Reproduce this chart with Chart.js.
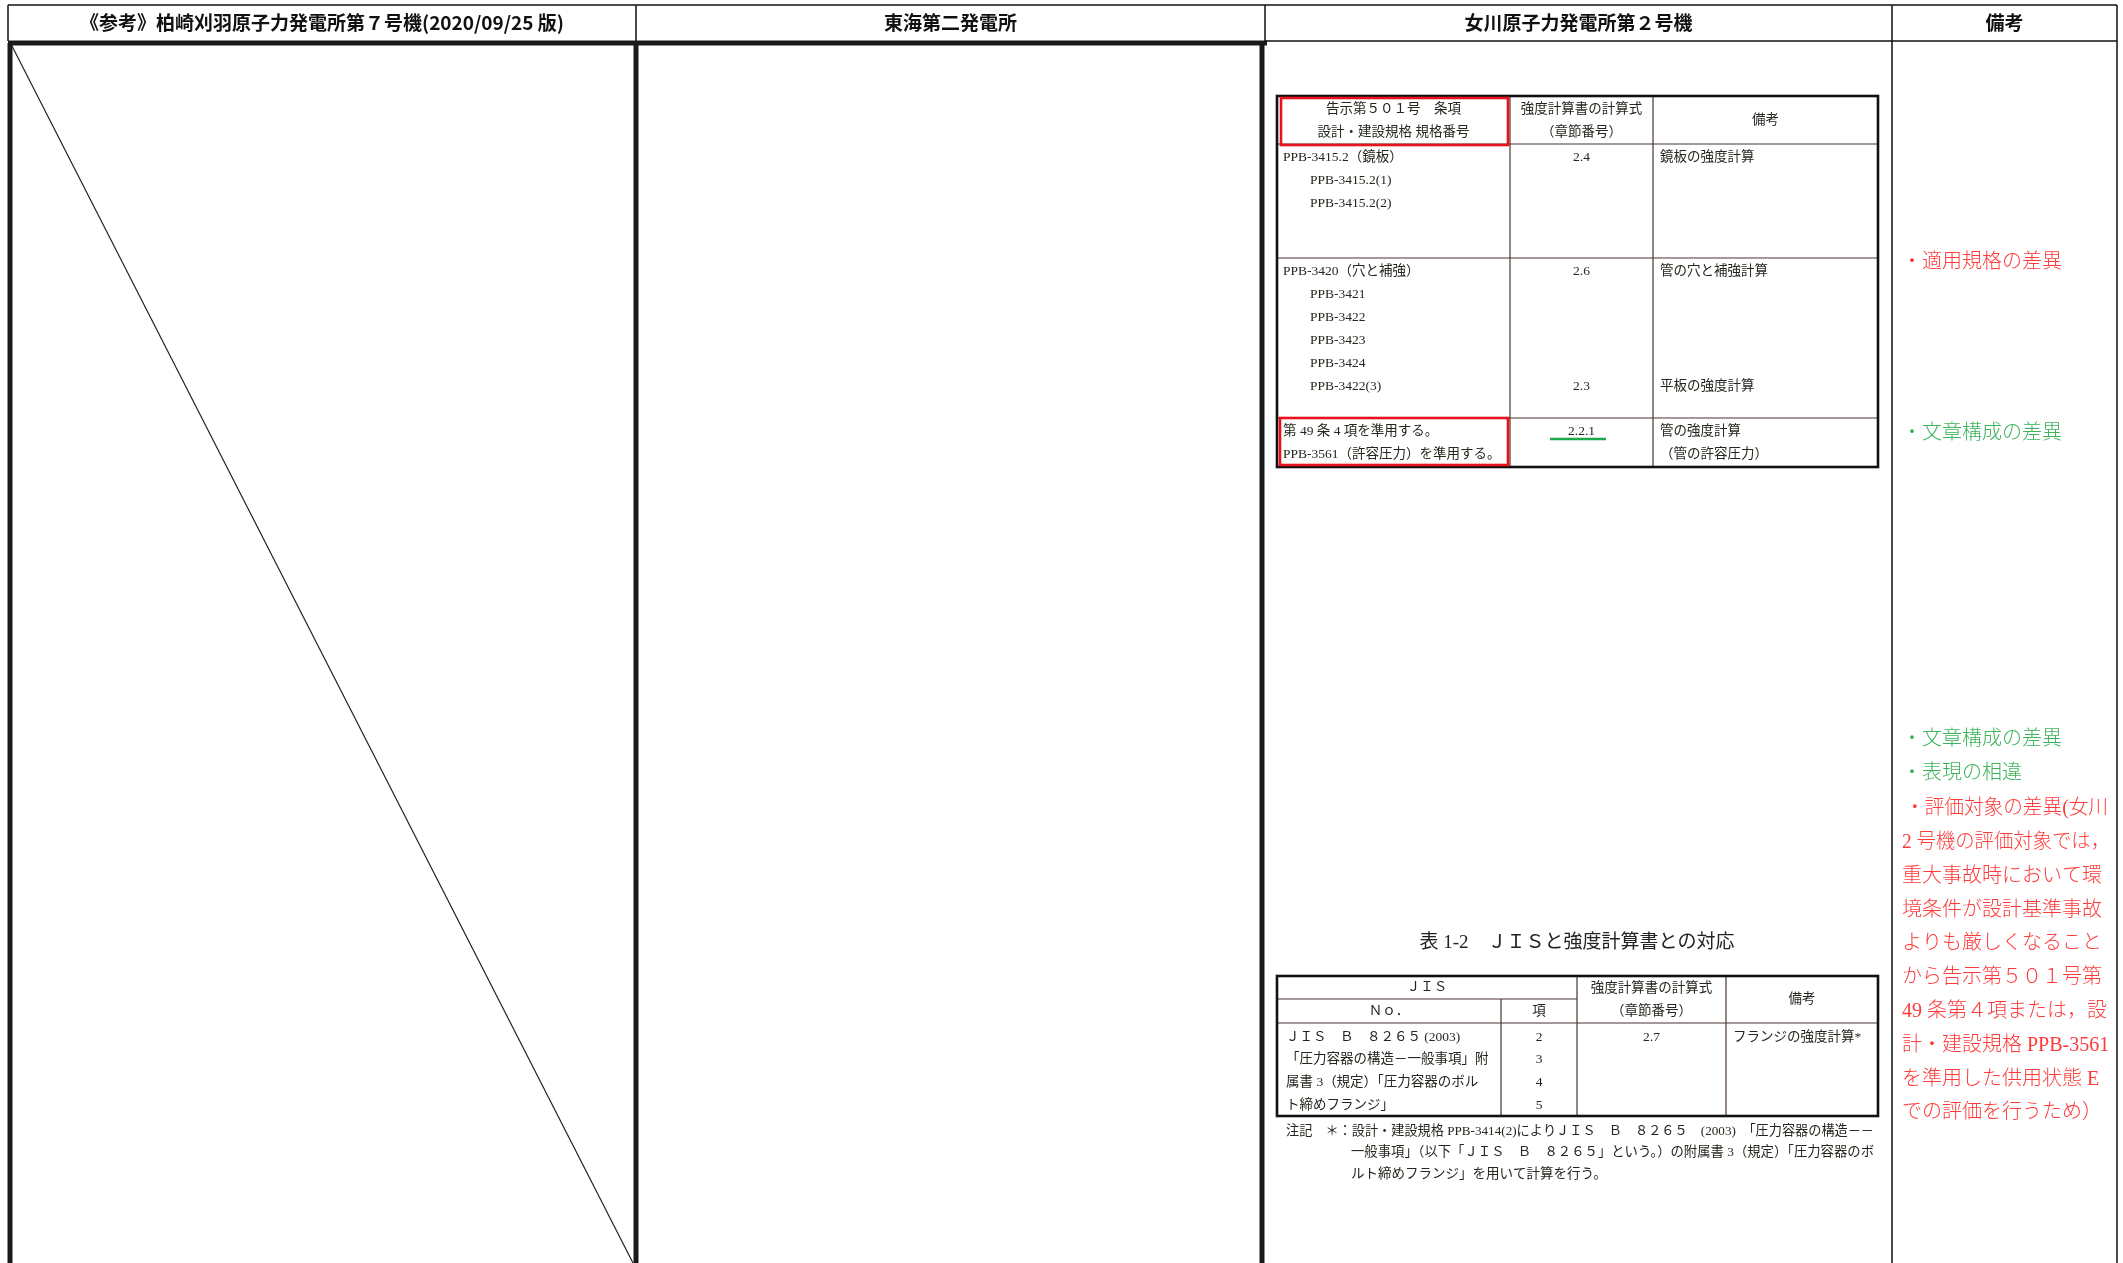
<!DOCTYPE html>
<html>
<head>
<meta charset="utf-8">
<script src="https://cdn.jsdelivr.net/npm/chart.js@4/dist/chart.umd.min.js"></script>
<style>
  html, body { margin: 0; padding: 0; background: #fff; }
  #wrap { width: 2123px; height: 1263px; }
</style>
</head>
<body>
<div id="wrap"><canvas id="doc" width="2123" height="1263"></canvas></div>
<script>
var W = 2123, H = 1263;

// 列見出し
var columnTitles = ['《参考》柏崎刈羽原子力発電所第７号機(2020/09/25 版)', '東海第二発電所', '女川原子力発電所第２号機', '備考'];

// 表1（告示第501号 / 設計・建設規格）
var t1Header = [['告示第５０１号　条項', '設計・建設規格 規格番号'], ['強度計算書の計算式', '（章節番号）'], ['備考']];
var t1Clause = [
    ['PPB-3415.2（鏡板）', '　　PPB-3415.2(1)', '　　PPB-3415.2(2)'],
    ['PPB-3420（穴と補強）', '　　PPB-3421', '　　PPB-3422', '　　PPB-3423', '　　PPB-3424', '　　PPB-3422(3)'],
    ['第 49 条 4 項を準用する。', 'PPB-3561（許容圧力）を準用する。']
];
var t1Formula = [['2.4'], ['2.6', '', '', '', '', '2.3'], ['2.2.1']];
var t1Remark = [['鏡板の強度計算'], ['管の穴と補強計算', '', '', '', '', '平板の強度計算'], ['管の強度計算', '（管の許容圧力）']];

// 表1-2（JIS）
var t2Caption = '表 1-2　ＪＩＳと強度計算書との対応';
var t2Header = ['ＪＩＳ', 'Ｎｏ．', '項', '強度計算書の計算式', '（章節番号）', '備考'];
var t2No = ['ＪＩＳ　Ｂ　８２６５ (2003)', '「圧力容器の構造－一般事項」附', '属書 3（規定）「圧力容器のボル', 'ト締めフランジ」'];
var t2Item = ['2', '3', '4', '5'];
var t2Formula = ['2.7'];
var t2Remark = ['フランジの強度計算*'];
var t2Notes = [
    '注記　＊：設計・建設規格 PPB-3414(2)によりＪＩＳ　Ｂ　８２６５　(2003)　「圧力容器の構造－－',
    '一般事項」（以下「ＪＩＳ　Ｂ　８２６５」という。）の附属書 3（規定）「圧力容器のボ',
    'ルト締めフランジ」を用いて計算を行う。'
];

// 備考欄
var remarkStd = ['・適用規格の差異'];
var remarkText1 = ['・文章構成の差異'];
var remarkText2 = ['・文章構成の差異', '・表現の相違'];
var remarkTarget = ['・評価対象の差異(女川', '2 号機の評価対象では，', '重大事故時において環', '境条件が設計基準事故',
    'よりも厳しくなること', 'から告示第５０１号第', '49 条第４項または，設', '計・建設規格 PPB-3561',
    'を準用した供用状態 E', 'での評価を行うため）'];

// レイアウト（座標）
var colEdges = [8, 636, 1265, 1892, 2117];
var headTop = 5, headBottom = 41, bodyTop = 43;
var t1X = [1277, 1510, 1653, 1878];
var t1Y = [96, 144, 258, 418, 467];
var t2X = [1277, 1501, 1577, 1726, 1878];
var t2Y = [976, 999, 1023, 1116];

var SANS = '"Noto Sans CJK JP", "Noto Sans", sans-serif';
var SERIF = '"Liberation Serif", "Noto Sans CJK JP", serif';
var INK = '#26261f';
var RED = '#ff3a3a';
var GREEN = '#3cb35a';

var docPlugin = {
    id: 'docPlugin',
    beforeDatasetsDraw: function(chart) {
        var ctx = chart.ctx;
        var sx = chart.scales.x, sy = chart.scales.y;
        function px(v) { return sx.getPixelForValue(v); }
        function py(v) { return sy.getPixelForValue(v); }
        function line(x1, y1, x2, y2, w, c) {
            ctx.beginPath();
            ctx.moveTo(px(x1), py(y1));
            ctx.lineTo(px(x2), py(y2));
            ctx.lineWidth = w;
            ctx.strokeStyle = c;
            ctx.stroke();
        }
        ctx.save();
        ctx.fillStyle = '#fff';
        ctx.fillRect(0, 0, chart.width, chart.height);

        // 見出し行
        line(colEdges[0], headTop, colEdges[4], headTop, 1.5, '#111');
        line(colEdges[2], headBottom, colEdges[4], headBottom, 1.5, '#111');
        colEdges.forEach(function(x) { line(x, headTop, x, headBottom, 1.5, '#111'); });
        // 太枠（左2列）
        line(colEdges[0], bodyTop, colEdges[2] + 2, bodyTop, 5, '#1a1a1a');
        line(colEdges[0] + 2, bodyTop, colEdges[0] + 2, H, 5, '#1a1a1a');
        line(colEdges[1], bodyTop, colEdges[1], H, 5, '#1a1a1a');
        line(colEdges[2] - 3, bodyTop, colEdges[2] - 3, H, 5, '#1a1a1a');
        line(colEdges[3], headBottom, colEdges[3], H, 1.5, '#111');
        line(colEdges[4], headBottom, colEdges[4], H, 1.5, '#111');

        // 表1
        var thin = '#4a3430';
        t1X.slice(1, 3).forEach(function(x) { line(x, t1Y[0], x, t1Y[4], 1.2, thin); });
        t1Y.slice(1, 4).forEach(function(y) { line(t1X[0], y, t1X[3], y, 1.2, thin); });
        ctx.lineWidth = 2.6;
        ctx.strokeStyle = '#111';
        ctx.strokeRect(px(t1X[0]), py(t1Y[0]), px(t1X[3]) - px(t1X[0]), py(t1Y[4]) - py(t1Y[0]));
        ctx.strokeStyle = '#e8121c';
        ctx.lineWidth = 2.6;
        ctx.strokeRect(px(t1X[0] + 4), py(t1Y[0] + 2), px(t1X[1] - 2) - px(t1X[0] + 4), py(t1Y[1] + 1) - py(t1Y[0] + 2));
        ctx.strokeRect(px(t1X[0] + 3), py(t1Y[3]), px(t1X[1] - 2) - px(t1X[0] + 3), py(t1Y[4] - 2) - py(t1Y[3]));
        // 緑下線
        line(1550, 439, 1606, 439, 2.4, '#1ea84a');

        // 表1-2
        line(t2X[0], t2Y[1], t2X[2], t2Y[1], 1.2, thin);
        line(t2X[0], t2Y[2], t2X[4], t2Y[2], 1.2, thin);
        line(t2X[1], t2Y[1], t2X[1], t2Y[3], 1.2, thin);
        line(t2X[2], t2Y[0], t2X[2], t2Y[3], 1.2, thin);
        line(t2X[3], t2Y[0], t2X[3], t2Y[3], 1.2, thin);
        ctx.lineWidth = 2.6;
        ctx.strokeStyle = '#111';
        ctx.strokeRect(px(t2X[0]), py(t2Y[0]), px(t2X[4]) - px(t2X[0]), py(t2Y[3]) - py(t2Y[0]));
        ctx.restore();
    },
    afterDatasetsDraw: function(chart) {
        var ctx = chart.ctx;
        var sx = chart.scales.x, sy = chart.scales.y;
        function text(s, x, y, font, color, align, maxW) {
            if (!s) return;
            ctx.font = font;
            ctx.fillStyle = color;
            ctx.textAlign = align || 'left';
            ctx.textBaseline = 'middle';
            if (maxW) ctx.fillText(s, sx.getPixelForValue(x), sy.getPixelForValue(y), maxW);
            else ctx.fillText(s, sx.getPixelForValue(x), sy.getPixelForValue(y));
        }
        ctx.save();
        // 列見出し
        var hf = 'bold 19px ' + SANS;
        columnTitles.forEach(function(t, i) {
            text(t, (colEdges[i] + colEdges[i + 1]) / 2, 23, hf, '#111', 'center', colEdges[i + 1] - colEdges[i] - 20);
        });

        // 表1
        var tf = '13.5px ' + SERIF;
        var step = 23;
        text(t1Header[0][0], (t1X[0] + t1X[1]) / 2, t1Y[0] + 13, tf, INK, 'center');
        text(t1Header[0][1], (t1X[0] + t1X[1]) / 2, t1Y[0] + 13 + step, tf, INK, 'center');
        text(t1Header[1][0], (t1X[1] + t1X[2]) / 2, t1Y[0] + 13, tf, INK, 'center');
        text(t1Header[1][1], (t1X[1] + t1X[2]) / 2, t1Y[0] + 13 + step, tf, INK, 'center');
        text(t1Header[2][0], (t1X[2] + t1X[3]) / 2, (t1Y[0] + t1Y[1]) / 2, tf, INK, 'center');
        for (var r = 0; r < 3; r++) {
            var top = t1Y[r + 1] + 13;
            t1Clause[r].forEach(function(s, k) { text(s, t1X[0] + 6, top + k * step, tf, INK, 'left', t1X[1] - t1X[0] - 10); });
            t1Formula[r].forEach(function(s, k) { text(s, (t1X[1] + t1X[2]) / 2, top + k * step, tf, INK, 'center'); });
            t1Remark[r].forEach(function(s, k) { text(s, t1X[2] + 7, top + k * step, tf, INK, 'left'); });
        }

        // 表1-2
        text(t2Caption, 1577, 943, '19px ' + SERIF, '#222', 'center');
        text(t2Header[0], (t2X[0] + t2X[2]) / 2, (t2Y[0] + t2Y[1]) / 2, tf, INK, 'center');
        text(t2Header[1], (t2X[0] + t2X[1]) / 2, (t2Y[1] + t2Y[2]) / 2, tf, INK, 'center');
        text(t2Header[2], (t2X[1] + t2X[2]) / 2, (t2Y[1] + t2Y[2]) / 2, tf, INK, 'center');
        text(t2Header[3], (t2X[2] + t2X[3]) / 2, t2Y[0] + 12, tf, INK, 'center');
        text(t2Header[4], (t2X[2] + t2X[3]) / 2, t2Y[0] + 35, tf, INK, 'center');
        text(t2Header[5], (t2X[3] + t2X[4]) / 2, (t2Y[0] + t2Y[2]) / 2, tf, INK, 'center');
        var step2 = 22.7, top2 = t2Y[2] + 14;
        t2No.forEach(function(s, k) { text(s, t2X[0] + 9, top2 + k * step2, tf, INK, 'left', t2X[1] - t2X[0] - 12); });
        t2Item.forEach(function(s, k) { text(s, (t2X[1] + t2X[2]) / 2, top2 + k * step2, tf, INK, 'center'); });
        t2Formula.forEach(function(s, k) { text(s, (t2X[2] + t2X[3]) / 2, top2 + k * step2, tf, INK, 'center'); });
        t2Remark.forEach(function(s, k) { text(s, t2X[3] + 7, top2 + k * step2, tf, INK, 'left'); });
        t2Notes.forEach(function(s, k) { text(s, k === 0 ? 1286 : 1351, 1131 + k * 21.5, tf, INK, 'left', 1874 - (k === 0 ? 1286 : 1351)); });

        // 備考欄
        var rf = '300 20px ' + SERIF;
        var rx = 1902, rw = 208;
        remarkStd.forEach(function(s) { text(s, rx, 263, rf, RED, 'left', rw); });
        remarkText1.forEach(function(s) { text(s, rx, 434, rf, GREEN, 'left', rw); });
        remarkText2.forEach(function(s, k) { text(s, rx, 740 + k * 34, rf, GREEN, 'left', rw); });
        remarkTarget.forEach(function(s, k) { text(s, k === 0 ? rx + 3 : rx, 809 + k * 33.8, rf, RED, 'left', k === 0 ? rw - 5 : rw); });
        ctx.restore();
    }
};

// 斜線（柏崎刈羽欄：該当なし）
var slash = [
    { x: colEdges[0] + 4, y: bodyTop + 3 },
    { x: colEdges[1] - 3, y: H }
];

var ctx = document.getElementById('doc').getContext('2d');
var docChart = new Chart(ctx, {
    type: 'scatter',
    data: {
        datasets: [{
            data: slash,
            showLine: true,
            borderColor: '#222',
            borderWidth: 1.2,
            pointRadius: 0,
            fill: false
        }]
    },
    options: {
        responsive: false,
        animation: false,
        events: [],
        layout: { padding: 0 },
        plugins: { legend: { display: false }, tooltip: { enabled: false } },
        scales: {
            x: { type: 'linear', min: 0, max: W, display: false },
            y: { type: 'linear', min: 0, max: H, reverse: true, display: false }
        }
    },
    plugins: [docPlugin]
});
</script>
</body>
</html>
